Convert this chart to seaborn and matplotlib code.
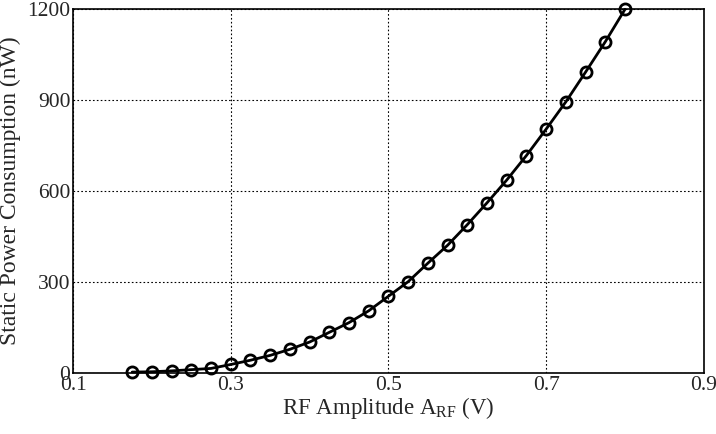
import matplotlib
matplotlib.use("Agg")
import matplotlib.pyplot as plt
import seaborn as sns
import pandas as pd

amplitude = [0.175, 0.2, 0.225, 0.25, 0.275, 0.3, 0.325, 0.35, 0.375, 0.4,
             0.425, 0.45, 0.475, 0.5, 0.525, 0.55, 0.575, 0.6, 0.625, 0.65,
             0.675, 0.7, 0.725, 0.75, 0.775, 0.8]
power = [3, 4, 7, 11, 15, 28, 42, 58, 78, 102,
         134, 166, 205, 253, 301, 362, 421, 489, 561, 636,
         717, 804, 894, 992, 1092, 1199]
x_ticks = [0.1, 0.3, 0.5, 0.7, 0.9]
y_ticks = [0, 300, 600, 900, 1200]

sns.set_theme(style="white")
plt.rcParams['font.family'] = ['Liberation Serif', 'DejaVu Serif']
plt.rcParams['mathtext.fontset'] = 'custom'
plt.rcParams['mathtext.rm'] = 'Liberation Serif'
plt.rcParams['mathtext.it'] = 'Liberation Serif'

df = pd.DataFrame({"amp": amplitude, "power": power})

fig = plt.figure(figsize=(7.16, 4.34), dpi=100)
ax = fig.add_axes([0.102, 0.1406, 0.881, 0.8386])
sns.lineplot(data=df, x="amp", y="power", ax=ax, color="black", lw=2,
             marker="o", markersize=8, markerfacecolor="none",
             markeredgecolor="black", markeredgewidth=2, clip_on=False, zorder=3)

ax.set_xlim(0.1, 0.9)
ax.set_ylim(0, 1200)
ax.set_xticks(x_ticks)
ax.set_yticks(y_ticks)
ax.set_xticklabels([f"{t:g}" for t in x_ticks], fontsize=15.5)
ax.set_yticklabels([str(t) for t in y_ticks], fontsize=15.5)
ax.tick_params(direction="in", length=4, color="black", width=1, pad=2)
ax.grid(True, color="black", linestyle=(0, (1.5, 2)), linewidth=0.8)
for s in ax.spines.values():
    s.set_color("black")
    s.set_linewidth(1.2)
ax.set_xlabel(r"RF Amplitude A$_{\mathregular{RF}}$ (V)", fontsize=16.5, labelpad=0)
ax.set_ylabel("Static Power Consumption (nW)", fontsize=17, labelpad=0)
ax.yaxis.set_label_coords(-0.083, 0.5)

fig.savefig("out.png", dpi=100)
